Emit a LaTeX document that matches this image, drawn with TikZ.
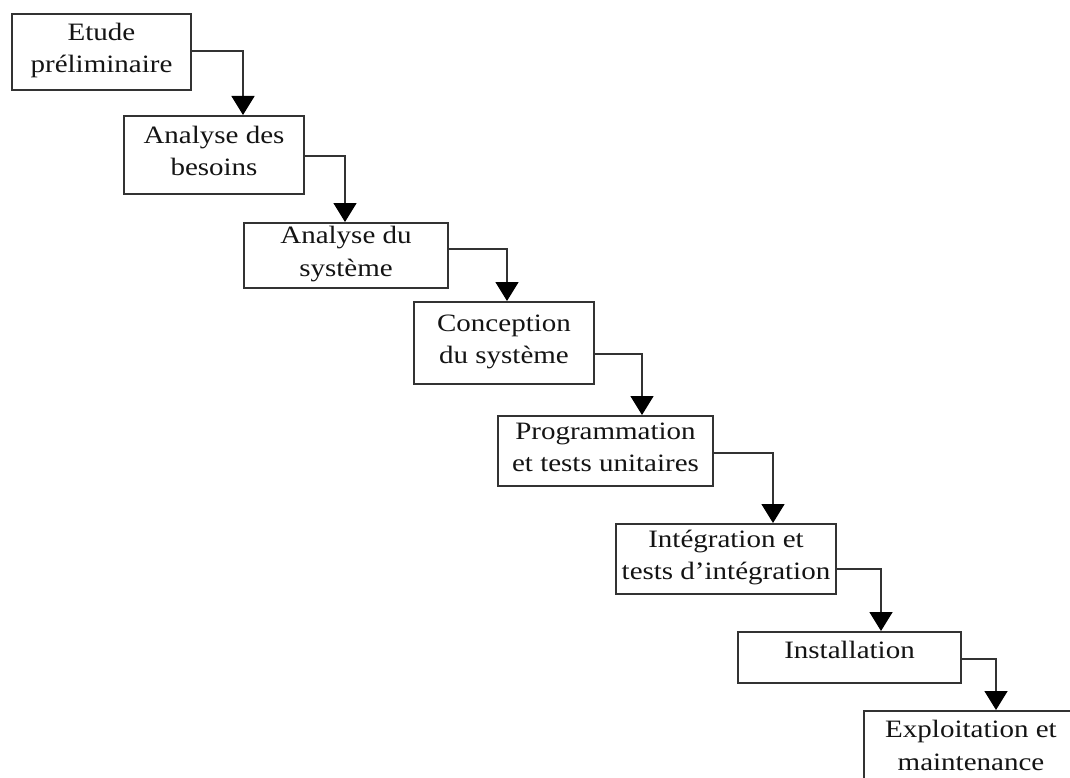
\documentclass[tikz,border=0pt]{standalone}
\usepackage{fontspec}
\setmainfont{Liberation Serif}[FakeStretch=1.16]
\usetikzlibrary{arrows.meta}

\definecolor{edge}{HTML}{333333}
\definecolor{ink}{HTML}{141414}

\tikzset{
  stage/.style={draw=edge, line width=2pt, anchor=north west, align=center,
    inner sep=0pt, text=ink, text height=49.5pt, text depth=8pt,
    font=\fontsize{25}{32.5}\selectfont},
  oneline/.style={text height=17pt, text depth=15pt},
  flow/.style={draw=edge, line width=1.6pt,
    -{Triangle[length=19pt,width=23pt,color=black]}}
}

\begin{document}
\begin{tikzpicture}[x=1pt,y=-1pt]
  \useasboundingbox (0,0) rectangle (1070,778);
  \fill[white] (0,0) rectangle (1070,778);
  \clip (0,0) rectangle (1070,778);

  % phases of the life cycle, top left to bottom right
  \node[stage, minimum width=179pt, minimum height=76pt] (b1) at (11,13) {Etude\\préliminaire};
  \node[stage, minimum width=180pt, minimum height=78pt] (b2) at (123,115) {Analyse des\\besoins};
  \node[stage, minimum width=204pt, minimum height=65pt] (b3) at (243,222) {Analyse du\\système};
  \node[stage, minimum width=180pt, minimum height=82pt] (b4) at (413,301) {Conception\\du système};
  \node[stage, minimum width=215pt, minimum height=70pt] (b5) at (497,415) {Programmation\\et tests unitaires};
  \node[stage, minimum width=220pt, minimum height=70pt] (b6) at (615,523) {Intégration et\\tests d’intégration};
  \node[stage, oneline, minimum width=223pt, minimum height=51pt] (b7) at (737,631) {Installation};
  \node[stage, minimum width=214pt, minimum height=77pt] (b8) at (863,710) {Exploitation et\\maintenance};

  % step-down connectors
  \draw[flow] ([yshift=1pt]b1.east)    -| ([xshift=120pt]b2.north west);
  \draw[flow] ([yshift=-1pt]b2.east)   -| ([xshift=102pt]b3.north west);
  \draw[flow] ([yshift=6.5pt]b3.east)  -| ([xshift=94pt]b4.north west);
  \draw[flow] ([yshift=-11pt]b4.east)  -| ([xshift=145pt]b5.north west);
  \draw[flow] ([yshift=-2pt]b5.east)   -| ([xshift=158pt]b6.north west);
  \draw[flow] ([yshift=-10pt]b6.east)  -| ([xshift=144pt]b7.north west);
  \draw[flow] ([yshift=-1.5pt]b7.east) -| ([xshift=133pt]b8.north west);
\end{tikzpicture}
\end{document}
